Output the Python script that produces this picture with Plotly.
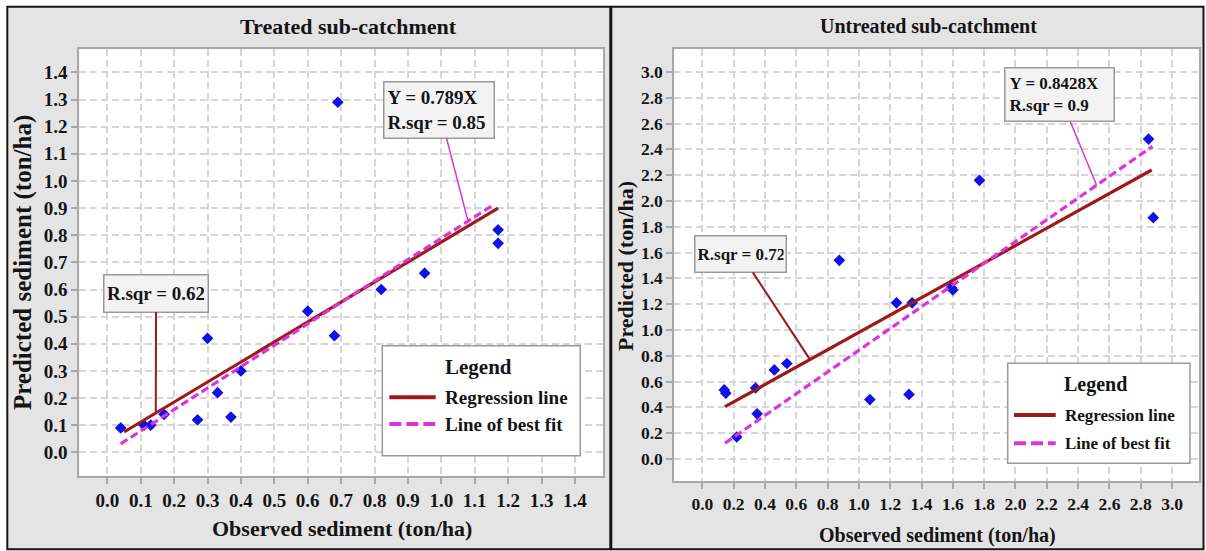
import plotly.graph_objects as go

W, H = 1206, 551

# ---- Treated sub-catchment -------------------------------------------------
treated_observed = [0.04, 0.11, 0.13, 0.17, 0.27, 0.30, 0.33, 0.37, 0.40,
                    0.60, 0.68, 0.69, 0.82, 0.95, 1.17, 1.17]
treated_predicted = [0.09, 0.10, 0.10, 0.14, 0.12, 0.42, 0.22, 0.13, 0.30,
                     0.52, 0.43, 1.29, 0.60, 0.66, 0.82, 0.77]
treated_reg_x = [0.05, 1.17]
treated_reg_y = [0.075, 0.90]
treated_fit_slope = 0.789
treated_fit_x = [0.04, 1.15]
treated_fit_r2 = 0.85
treated_reg_r2 = 0.62

# ---- Untreated sub-catchment -----------------------------------------------
untreated_observed = [0.14, 0.15, 0.22, 0.34, 0.35, 0.46, 0.54, 0.875, 1.07,
                      1.24, 1.32, 1.34, 1.59, 1.60, 1.77, 2.85, 2.88]
untreated_predicted = [0.535, 0.51, 0.17, 0.55, 0.35, 0.69, 0.74, 1.54, 0.46,
                       1.21, 0.50, 1.21, 1.33, 1.31, 2.16, 2.48, 1.87]
untreated_reg_x = [0.145, 2.87]
untreated_reg_y = [0.405, 2.24]
untreated_fit_slope = 0.8428
untreated_fit_x = [0.145, 2.875]
untreated_fit_r2 = 0.9
untreated_reg_r2 = 0.72

legend_labels = ["Regression line", "Line of best fit"]

FONT = "Liberation Serif"
INK = "#141414"
REG_COLOR = "#9e1a1a"
FIT_COLOR = "#dd33dd"
PT_COLOR = "#1010e8"
FRAME = "#a8a8a8"
PANEL = "#e4e4e4"


def px(x):
    return x / W


def py(y):
    return 1 - y / H


fig = go.Figure()


def add_panel(obs, pred, reg_x, reg_y, slope, fit_x, xa, ya):
    fig.add_trace(go.Scatter(
        x=obs, y=pred, mode="markers", xaxis=xa, yaxis=ya, showlegend=False,
        marker=dict(symbol="diamond", size=9, color=PT_COLOR,
                    line=dict(width=0)),
        hovertemplate="Observed %{x}<br>Predicted %{y}<extra></extra>"))
    fig.add_trace(go.Scatter(
        x=reg_x, y=reg_y, mode="lines", xaxis=xa, yaxis=ya, showlegend=False,
        name=legend_labels[0], line=dict(color=REG_COLOR, width=3.2)))
    fig.add_trace(go.Scatter(
        x=fit_x, y=[slope * v for v in fit_x], mode="lines", xaxis=xa,
        yaxis=ya, showlegend=False, name=legend_labels[1],
        line=dict(color=FIT_COLOR, width=3.2, dash="8px,4px")))


add_panel(treated_observed, treated_predicted, treated_reg_x, treated_reg_y,
          treated_fit_slope, treated_fit_x, "x", "y")
add_panel(untreated_observed, untreated_predicted, untreated_reg_x,
          untreated_reg_y, untreated_fit_slope, untreated_fit_x, "x2", "y2")


def axis(domain, rng, dtick, anchor, size):
    return dict(
        domain=domain, range=rng, anchor=anchor, dtick=dtick, tick0=0,
        tickformat=".1f", showgrid=True, gridcolor="#d6d6d6", gridwidth=1.5,
        griddash="7px,4px", zeroline=False, showline=True, mirror=True,
        linecolor=FRAME, linewidth=2, ticks="outside", ticklen=6,
        tickwidth=1.5, tickcolor=FRAME,
        tickfont=dict(family=FONT, size=size, color=INK, weight="bold"))


layout = dict(
    width=W, height=H, margin=dict(l=0, r=0, t=0, b=0),
    paper_bgcolor="white", plot_bgcolor="white", showlegend=False,
    font=dict(family=FONT, color=INK),
    xaxis=axis([px(79.3), px(603.3)], [-0.084, 1.485], 0.1, "y", 19),
    yaxis=axis([py(475.7), py(49.3)], [-0.086, 1.485], 0.1, "x", 19),
    xaxis2=axis([px(674.3), px(1199)], [-0.179, 3.172], 0.2, "y2", 17.5),
    yaxis2=axis([py(481), py(49)], [-0.171, 3.178], 0.2, "x2", 17.5),
)
fig.update_layout(**layout)

shapes = []
annotations = []

# panel frames
for x0, x1 in [(7.3, 610.3), (611.3, 1203.5)]:
    shapes.append(dict(type="rect", xref="paper", yref="paper", layer="below",
                       x0=px(x0), x1=px(x1), y0=py(549.3), y1=py(6.7),
                       fillcolor=PANEL, line=dict(color="#151515", width=2)))
# white plotting areas
for xr, yr in [("x domain", "y domain"), ("x2 domain", "y2 domain")]:
    shapes.append(dict(type="rect", xref=xr, yref=yr, layer="below",
                       x0=0, x1=1, y0=0, y1=1, fillcolor="white",
                       line=dict(width=0)))


def text(x, y, s, size, angle=0, xanchor="center"):
    annotations.append(dict(
        xref="paper", yref="paper", x=px(x), y=py(y), text=s,
        showarrow=False, textangle=angle, xanchor=xanchor, yanchor="middle",
        font=dict(family=FONT, size=size, color=INK, weight="bold")))


# titles and axis titles
text(348, 26.4, "Treated sub-catchment", 22)
text(928, 26, "Untreated sub-catchment", 20)
text(341.5, 528, "Observed sediment (ton/ha)", 22)
text(937, 535, "Observed sediment (ton/ha)", 20)
text(22.5, 262.6, "Predicted sediment (ton/ha)", 25, angle=-90)
text(625, 266, "Predicted (ton/ha)", 22, angle=-90)


def callout(xa, ya, x, y, ax, ay, s, size, color, width, w, h, pad, align):
    annotations.append(dict(
        xref=xa, yref=ya, x=x, y=y, ax=ax, ay=ay, text=s, showarrow=True,
        arrowhead=0, arrowwidth=width, arrowcolor=color, standoff=0,
        bgcolor="#f3f3f3", bordercolor="#9a9a9a", borderwidth=1.5,
        borderpad=pad, width=w, height=h, align=align, valign="middle",
        font=dict(family=FONT, size=size, color=INK, weight="bold")))


callout("x", "y", 0.145, 0.15, 0.3, -118.5,
        f"R.sqr = {treated_reg_r2}", 19, REG_COLOR, 2, 97, 30, 3, "center")
callout("x", "y", 1.08, treated_fit_slope * 1.08, -28.9, -111.3,
        f"Y = {treated_fit_slope}X<br>R.sqr = {treated_fit_r2}", 19,
        FIT_COLOR, 1.5, 103, 49, 3, "left")
callout("x2", "y2", 0.688, 0.77, -69.2, -105.5,
        f"R.sqr = {untreated_reg_r2}", 17, REG_COLOR, 2, 86, 31, 2, "left")
callout("x2", "y2", 2.518, untreated_fit_slope * 2.518, -37.4, -90.5,
        f"Y = {untreated_fit_slope}X<br>R.sqr = {untreated_fit_r2}", 17,
        FIT_COLOR, 1.5, 100, 44, 4, "left")


def legend_box(x0, x1, y0, y1, title_xy, title_size, sample, text_x, rows,
               size):
    shapes.append(dict(type="rect", xref="paper", yref="paper", layer="above",
                       x0=px(x0), x1=px(x1), y0=py(y1), y1=py(y0),
                       fillcolor="white", line=dict(color="#9a9a9a", width=1.5)))
    text(title_xy[0], title_xy[1], "Legend", title_size)
    styles = [dict(color=REG_COLOR, width=4),
              dict(color=FIT_COLOR, width=4, dash="12px,5px")]
    for label, row_y, st in zip(legend_labels, rows, styles):
        shapes.append(dict(type="line", xref="paper", yref="paper",
                           layer="above", x0=px(sample[0]), x1=px(sample[1]),
                           y0=py(row_y), y1=py(row_y), line=st))
        text(text_x, row_y, label, size, xanchor="left")


legend_box(382.3, 580.3, 345.7, 455.7, (478.3, 367.3), 21, (389.3, 435.7),
           442.5, (397.3, 424), 19)
legend_box(1007.7, 1190, 363.3, 463.3, (1095, 384.3), 20, (1014, 1055.7),
           1062.5, (415, 443.3), 17)

fig.update_layout(shapes=shapes, annotations=annotations)
fig.write_html("out.html")
